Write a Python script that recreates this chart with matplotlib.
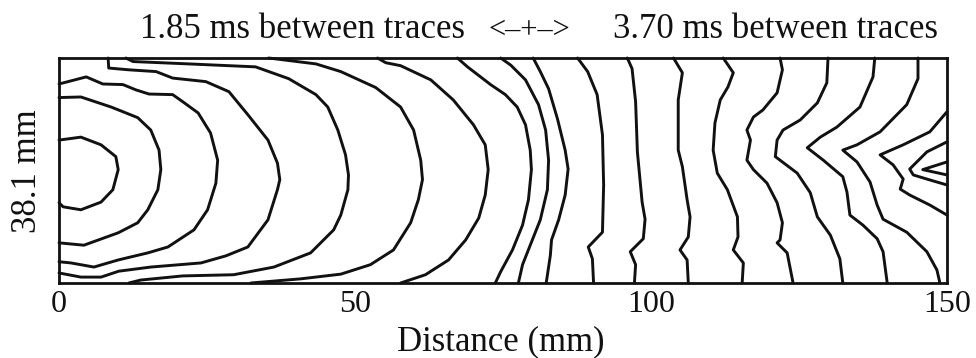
import matplotlib
matplotlib.use("Agg")
import matplotlib.pyplot as plt

# ----------------------------------------------------------------------
# Flow-front traces in a 150 mm x 38.1 mm cavity (x, y in mm)
# ----------------------------------------------------------------------
t01_x = [0, 3.7, 7.1, 9.6, 10.0, 9.1, 7.1, 3.7, 0.7, 0]
t01_y = [24.2, 24.7, 23.4, 21.4, 19.2, 15.8, 13.7, 12.4, 12.9, 13.6]

t02_x = [0, 3.7, 8.8, 13.3, 15.5, 16.9, 17.2, 16.7, 15.0, 13.3, 10.0, 4.2, 0]
t02_y = [31.4, 31.5, 29.8, 28.0, 25.9, 22.5, 19.2, 15.8, 12.4, 10.2, 8.5, 6.4, 6.8]

t03_x = [0, 4.6, 7.4, 10.8, 13.0, 15.2, 19.2, 20.9, 23.5, 25.6, 26.8, 26.5,
         25.1, 22.8, 18.4, 15.0, 10.0, 5.9, 2.0, 0]
t03_y = [33.7, 34.9, 33.7, 33.6, 32.7, 32.0, 31.9, 30.7, 28.8, 25.4, 20.8, 16.9,
         12.4, 9.0, 6.1, 5.1, 3.9, 2.7, 3.4, 3.6]

t04_x = [8.3, 8.4, 11.8, 16.4, 19.2, 24.8, 28.7, 31.9, 35.3, 36.9, 37.3, 36.9,
         35.3, 31.9, 28.2, 24.0, 15.5, 10.1, 7.1, 3.7, 0]
t04_y = [38.1, 36.4, 36.1, 35.8, 34.7, 34.1, 32.4, 28.5, 24.2, 20.3, 17.5, 15.8,
         10.7, 6.1, 4.6, 3.4, 2.7, 2.0, 1.0, 1.0, 1.7]

t05_x = [11.3, 12.5, 21.9, 33.2, 38.8, 43.4, 45.4, 47.1, 48.4, 48.9, 48.8, 47.6,
         46.4, 42.5, 36.3, 29.5, 20.9, 13.8, 11.8]
t05_y = [38.1, 37.5, 37.1, 36.6, 34.6, 31.9, 29.8, 25.9, 21.7, 18.3, 15.8, 11.5,
         9.0, 5.1, 2.7, 1.4, 1.2, 0.5, 0]

t06_x = [35.4, 43.4, 47.6, 53.5, 57.7, 59.9, 61.1, 61.4, 60.7, 59.4, 56.5, 52.6,
         47.6, 40.8, 32.4]
t06_y = [38.1, 37.1, 35.8, 33.1, 29.8, 25.9, 20.8, 17.5, 14.1, 10.2, 5.6, 3.1,
         1.5, 0.7, 0]

t07_x = [53.8, 55.2, 57.7, 62.8, 66.6, 70.0, 72.0, 72.5, 72.0, 70.9, 68.7, 65.8,
         61.9, 57.7]
t07_y = [38.1, 37.3, 36.8, 34.4, 31.0, 26.8, 23.4, 19.2, 14.9, 11.0, 7.3, 3.9,
         1.4, 0]

t08_x = [67.3, 69.0, 72.9, 75.4, 77.4, 78.8, 79.6, 79.8, 79.3, 78.3, 76.6, 74.6, 73.7]
t08_y = [38.1, 36.6, 33.6, 31.9, 29.8, 26.8, 22.5, 19.2, 14.1, 9.8, 5.6, 1.9, 0]

t09_x = [74.6, 76.3, 78.8, 81.0, 82.2, 82.7, 82.5, 81.3, 79.6, 78.3, 77.6]
t09_y = [38.1, 36.9, 34.4, 30.2, 25.9, 20.8, 15.8, 10.7, 6.4, 3.1, 0]

t10_x = [80.1, 81.3, 82.7, 84.2, 85.5, 86.0, 85.5, 84.4, 83.2, 83.0, 82.3]
t10_y = [38.1, 35.8, 32.9, 27.8, 22.5, 19.3, 14.9, 10.7, 7.3, 4.7, 0]

t11_x = [87.6, 89.3, 90.9, 91.8, 92.0, 91.8, 89.4, 90.1, 90.3]
t11_y = [38.1, 35.8, 31.9, 25.1, 16.6, 8.6, 6.1, 4.1, 0]

t12_x = [96.0, 96.8, 97.4, 97.7, 98.5, 99.0, 98.7, 96.5, 97.4, 97.2]
t12_y = [38.1, 36.3, 30.7, 22.2, 13.7, 10.8, 7.5, 5.3, 3.1, 0]

t13_x = [103.8, 105.3, 104.6, 104.6, 105.3, 106.1, 106.6, 106.3, 104.9, 106.1, 106.3]
t13_y = [38.1, 35.6, 31.0, 22.5, 19.7, 14.1, 11.2, 7.8, 5.6, 3.9, 0]

t14_x = [112.2, 113.9, 113.0, 111.7, 110.8, 110.5, 111.2, 112.9, 114.6, 114.7,
         113.9, 115.6, 115.4]
t14_y = [38.1, 35.6, 33.2, 31.0, 27.1, 22.5, 18.6, 15.8, 11.2, 7.8, 5.6, 3.4, 0]

t15_x = [121.8, 122.2, 121.3, 118.9, 117.3, 116.2, 116.8, 116.2, 117.3, 119.6,
         121.3, 122.2, 121.8, 121.3, 123.0, 124.0]
t15_y = [38.1, 36.1, 32.2, 29.3, 28.1, 25.9, 24.2, 20.8, 19.2, 16.9, 13.6, 10.2,
         7.3, 6.8, 5.1, 0]

t16_x = [129.9, 129.7, 128.1, 125.2, 122.3, 121.3, 121.0, 124.7, 126.9, 128.1,
         130.3, 131.9, 132.4]
t16_y = [38.1, 33.9, 30.5, 27.6, 25.9, 24.2, 21.4, 18.6, 15.3, 11.2, 8.1, 4.1, 0]

t17_x = [137.8, 137.5, 135.3, 131.4, 128.6, 126.4, 129.1, 132.4, 133.1, 133.6,
         135.8, 138.2, 139.2, 139.9]
t17_y = [38.1, 34.9, 29.8, 26.4, 24.7, 22.9, 20.8, 18.0, 15.4, 11.5, 9.8, 7.5,
         5.3, 0]

t18_x = [145.1, 145.1, 143.2, 138.7, 134.8, 132.4, 134.8, 137.0, 138.2, 139.2,
         143.2, 146.6, 148.3, 148.8]
t18_y = [38.1, 34.6, 30.2, 25.6, 23.4, 22.5, 20.5, 17.1, 13.2, 10.8, 8.6, 5.3,
         2.2, 0]

t19_x = [150.0, 147.1, 142.6, 138.7, 140.9, 142.6, 142.1, 143.7, 147.1, 150.0]
t19_y = [29.0, 25.6, 23.4, 21.7, 20.0, 17.6, 15.9, 14.9, 13.2, 11.5]

t20_x = [150.0, 146.6, 143.7, 144.3, 146.6, 150.0]
t20_y = [23.9, 22.2, 19.3, 18.3, 17.6, 16.6]

t21_x = [150.0, 145.9, 150.0]
t21_y = [20.5, 19.2, 18.3]

traces = [
    (t01_x, t01_y), (t02_x, t02_y), (t03_x, t03_y), (t04_x, t04_y),
    (t05_x, t05_y), (t06_x, t06_y), (t07_x, t07_y), (t08_x, t08_y),
    (t09_x, t09_y), (t10_x, t10_y), (t11_x, t11_y), (t12_x, t12_y),
    (t13_x, t13_y), (t14_x, t14_y), (t15_x, t15_y), (t16_x, t16_y),
    (t17_x, t17_y), (t18_x, t18_y), (t19_x, t19_y), (t20_x, t20_y),
    (t21_x, t21_y),
]

cavity_length = 150.0
cavity_width = 38.1
x_ticks = [0, 50, 100, 150]
left_note = "1.85 ms between traces"
right_note = "3.70 ms between traces"

# ----------------------------------------------------------------------
# Figure
# ----------------------------------------------------------------------
plt.rcParams["font.family"] = ["Liberation Serif", "DejaVu Serif"]

W, H = 976, 358
fig = plt.figure(figsize=(W / 100, H / 100), dpi=100)
fig.patch.set_facecolor("white")

ax = fig.add_axes([59 / W, 1 - 283 / H, (947 - 59) / W, (283 - 58) / H])
for xs, ys in traces:
    ax.plot(xs, ys, color="#111111", linewidth=2.1,
            solid_joinstyle="round", solid_capstyle="round", clip_on=False)

ax.set_xlim(0, cavity_length)
ax.set_ylim(0, cavity_width)
for side in ax.spines.values():
    side.set_linewidth(2.0)
    side.set_color("#111111")
ax.set_xticks(x_ticks)
ax.set_xticklabels([str(t) for t in x_ticks])
ax.set_yticks([])
ax.tick_params(axis="x", length=0, pad=5, labelsize=23, colors="#111111")

# annotations above and around the cavity
fig.text(140 / W, 1 - 38 / H, left_note, fontsize=25, color="#111111",
         ha="left", va="baseline")
fig.text(529 / W, 1 - 30 / H, "<–+–>", fontsize=22, color="#111111",
         ha="center", va="center")
fig.text(613 / W, 1 - 38 / H, right_note, fontsize=25, color="#111111",
         ha="left", va="baseline")
fig.text(501 / W, 1 - 350 / H, "Distance (mm)", fontsize=25, color="#111111",
         ha="center", va="baseline")
fig.text(28 / W, 1 - 171 / H, "38.1 mm", fontsize=25, color="#111111",
         rotation=90, ha="center", va="center")

fig.savefig("out.png", dpi=100, facecolor="white")
